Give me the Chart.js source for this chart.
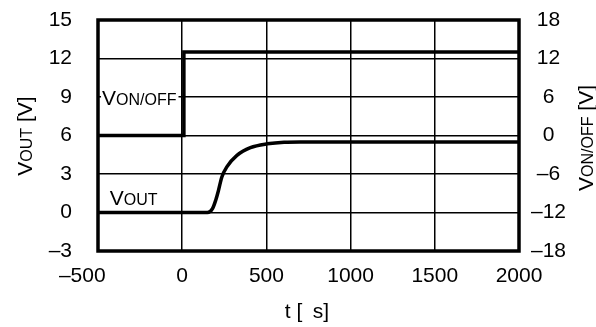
<!DOCTYPE html>
<html>
<head>
<meta charset="utf-8">
<script src="https://cdn.jsdelivr.net/npm/chart.js@4.4.1/dist/chart.umd.min.js"></script>
<style>
  html, body { margin: 0; padding: 0; background: #fff; }
  #chart { display: block; }
</style>
</head>
<body>
<canvas id="chart" width="596" height="327"></canvas>
<script>
// Axis ranges / ticks
var xMin = -500, xMax = 2000, xStep = 500;
var leftMin = -3, leftMax = 15, leftStep = 3;
var rightMin = -18, rightMax = 18, rightStep = 6;

// VOUT (left axis, V) vs time (us)
var vOutTimes = [-500, 150, 180, 200, 215, 235, 265, 325, 405, 505, 605, 700, 2000];
var vOutValues = [0, 0, 0.3, 1.0, 1.7, 2.75, 3.55, 4.45, 5.05, 5.35, 5.48, 5.5, 5.5];

// VON/OFF (right axis, V) vs time (us)
var vOnOffTimes = [-500, 10, 10, 2000];
var vOnOffValues = [0, 0, 13, 13];

var fontFamily = '"Liberation Sans", Arial, sans-serif';
var bigSize = 21;
var smallSize = 16;

function toPoints(xs, ys) {
  return xs.map(function (x, i) { return { x: x, y: ys[i] }; });
}

function dashLabel(value) {
  return String(value).replace('-', '\u2013');
}

// labels may hang over the plot edges, don't let them shrink the plot
function noPad(s) {
  s.paddingTop = 0;
  s.paddingBottom = 0;
  s.paddingLeft = 0;
  s.paddingRight = 0;
}

// draw text made of parts with different sizes, on one baseline
function drawParts(ctx, parts, x, y, align) {
  var total = 0;
  parts.forEach(function (p) {
    ctx.font = p.size + 'px ' + fontFamily;
    p.w = ctx.measureText(p.t).width;
    total += p.w;
  });
  var start = x;
  if (align === 'center') start = x - total / 2;
  ctx.textAlign = 'left';
  ctx.textBaseline = 'alphabetic';
  parts.forEach(function (p) {
    ctx.font = p.size + 'px ' + fontFamily;
    ctx.fillText(p.t, start, y);
    start += p.w;
  });
  return total;
}

var annotations = {
  id: 'annotations',
  beforeDatasetsDraw: function (chart) {
    var ctx = chart.ctx;
    var xs = chart.scales.x, yl = chart.scales.y;
    ctx.save();
    ctx.fillStyle = '#000';
    // VON/OFF label on the 9 V grid line, white box behind it
    var lx = xs.getPixelForValue(-476);
    var ly = yl.getPixelForValue(9);
    var onoff = [{ t: 'V', size: bigSize }, { t: 'ON/OFF', size: smallSize }];
    var w = 0;
    onoff.forEach(function (p) { ctx.font = p.size + 'px ' + fontFamily; w += ctx.measureText(p.t).width; });
    ctx.fillStyle = '#fff';
    ctx.fillRect(lx - 1, ly - 10, w + 3, 20);
    ctx.fillStyle = '#000';
    drawParts(ctx, onoff, lx, ly + 7.5, 'left');
    // VOUT label
    var ox = xs.getPixelForValue(-430);
    var oy = yl.getPixelForValue(1.2);
    drawParts(ctx, [{ t: 'V', size: bigSize }, { t: 'OUT', size: smallSize }], ox, oy + 7.5, 'left');
    ctx.restore();
  },
  afterDatasetsDraw: function (chart) {
    var ctx = chart.ctx;
    var a = chart.chartArea;
    ctx.save();
    ctx.strokeStyle = '#000';
    ctx.lineWidth = 3.5;
    ctx.strokeRect(a.left, a.top, a.right - a.left, a.bottom - a.top);
    ctx.restore();
  },
  afterDraw: function (chart) {
    var ctx = chart.ctx;
    ctx.save();
    ctx.fillStyle = '#000';
    // x title
    drawParts(ctx, [{ t: 't [\u2002s]', size: bigSize }], 307, 318, 'center');
    // left title, reading upward
    ctx.translate(32, 136);
    ctx.rotate(-Math.PI / 2);
    drawParts(ctx, [{ t: 'V', size: bigSize }, { t: 'OUT', size: smallSize }, { t: ' [V]', size: bigSize }], 0, 0, 'center');
    ctx.restore();
    ctx.save();
    ctx.fillStyle = '#000';
    ctx.translate(593, 138);
    ctx.rotate(-Math.PI / 2);
    drawParts(ctx, [{ t: 'V', size: bigSize }, { t: 'ON/OFF', size: smallSize }, { t: ' [V]', size: bigSize }], 0, 0, 'center');
    ctx.restore();
  }
};

var tickFont = { family: fontFamily, size: bigSize };

var chart = new Chart(document.getElementById('chart'), {
  type: 'line',
  data: {
    datasets: [
      {
        label: 'VOUT',
        data: toPoints(vOutTimes, vOutValues),
        yAxisID: 'y',
        borderColor: '#000',
        borderWidth: 3.5,
        pointRadius: 0,
        cubicInterpolationMode: 'monotone',
        fill: false
      },
      {
        label: 'VON/OFF',
        data: toPoints(vOnOffTimes, vOnOffValues),
        yAxisID: 'y2',
        borderColor: '#000',
        borderWidth: 3.5,
        pointRadius: 0,
        tension: 0,
        fill: false
      }
    ]
  },
  options: {
    responsive: false,
    devicePixelRatio: 1,
    animation: false,
    layout: { padding: { top: 20, left: 0, right: 0, bottom: 0 } },
    plugins: {
      legend: { display: false },
      tooltip: { enabled: false }
    },
    scales: {
      x: {
        type: 'linear',
        min: xMin,
        max: xMax,
        ticks: {
          stepSize: xStep,
          font: tickFont,
          color: '#000',
          padding: 13,
          maxRotation: 0,
          callback: function (v) {
            // "-500" sits a little left of its grid line in the original
            return v === xMin ? dashLabel(v) + '\u2003\u2002' : dashLabel(v);
          }
        },
        grid: { color: '#000', lineWidth: 1.5, drawTicks: false },
        border: { display: false },
        afterFit: function (s) { s.height = 76; noPad(s); }
      },
      y: {
        position: 'left',
        min: leftMin,
        max: leftMax,
        ticks: {
          stepSize: leftStep,
          font: tickFont,
          color: '#000',
          padding: 26,
          callback: function (v) { return dashLabel(v); }
        },
        grid: { color: '#000', lineWidth: 1.5, drawTicks: false },
        border: { display: false },
        afterFit: function (s) { s.width = 98; noPad(s); }
      },
      y2: {
        position: 'right',
        min: rightMin,
        max: rightMax,
        ticks: {
          stepSize: rightStep,
          font: tickFont,
          color: '#000',
          padding: 12,
          crossAlign: 'center',
          callback: function (v) { return dashLabel(v); }
        },
        grid: { display: false, drawTicks: false },
        border: { display: false },
        afterFit: function (s) { s.width = 77; noPad(s); }
      }
    }
  },
  plugins: [annotations]
});
</script>
</body>
</html>
